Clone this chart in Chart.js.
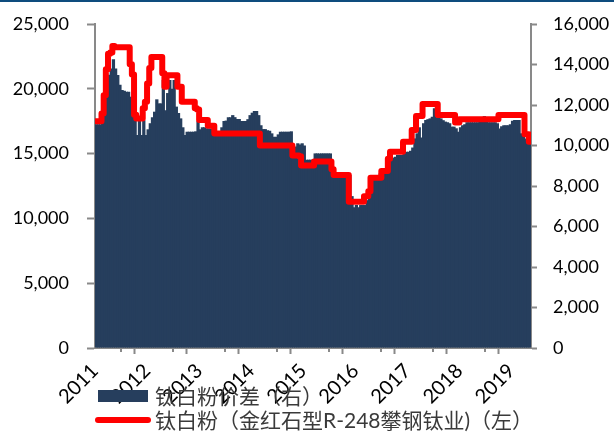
<!DOCTYPE html>
<html lang="zh">
<head>
  <meta charset="UTF-8">
  <title>钛白粉价差</title>
  <style>
    body {
      margin: 0;
      background: #fff;
    }
    #wrap {
      position: relative;
      width: 614px;
      height: 432px;
    }
    #c {
      position: absolute;
      left: 0;
      top: 0;
    }
    .topline {
      position: absolute;
      left: 0;
      top: 0;
      width: 614px;
      height: 2px;
      background: #0E4C7E;
    }
    .lg-box {
      position: absolute;
      left: 98px;
      top: 390px;
      width: 50px;
      height: 12px;
      background: #263E5D;
    }
    .lg-line {
      position: absolute;
      left: 95px;
      top: 417px;
      width: 56px;
      height: 6px;
      border-radius: 3px;
      background: #FF0000;
    }
    .lg-text {
      position: absolute;
      left: 155px;
      font-family: Lato, "Noto Sans CJK SC", sans-serif;
      font-size: 21px;
      line-height: 22px;
      color: #3a3a3a;
      white-space: nowrap;
    }
  </style>
  <script src="https://cdn.jsdelivr.net/npm/chart.js"></script>
</head>
<body>
  <div id="wrap">
    <canvas id="c" width="614" height="432"></canvas>
    <div class="topline"></div>
    <div class="lg-box"></div>
    <div class="lg-text" id="lg1" style="top:385px"></div>
    <div class="lg-line"></div>
    <div class="lg-text" id="lg2" style="top:409px"></div>
  </div>

  <script>
    // half-month samples, Jan 2011 .. mid-May 2019
    const startYear = 2011;
    const perYear = 24;
    const yearLabels = [2011, 2012, 2013, 2014, 2015, 2016, 2017, 2018, 2019];
    const seriesNames = ["钛白粉价差（右）", "钛白粉（金红石型R-248攀钢钛业)（左）"];

    // 钛白粉 price, left axis
    const priceLeft = [
      17500, 17500, 17500, 18100, 19500, 21500, 22700, 22800, 23300, 23200, 23200, 23200,
      23200, 23200, 23200, 23200, 21900, 21100, 18000, 17700, 17700, 17700, 18500, 19000,
      20400, 21600, 22450, 22450, 22450, 22450, 22450, 21200, 20150, 21050, 21050, 21050,
      21050, 21050, 20150, 20150, 19000, 19000, 19000, 19000, 19000, 19000, 18500, 18400,
      17600, 17600, 17600, 17600, 17150, 17150, 17150, 16550, 16550, 16550, 16550, 16550,
      16550, 16550, 16550, 16550, 16550, 16550, 16550, 16550, 16550, 16550, 16550, 16550,
      16550, 16550, 16550, 16550, 15620, 15620, 15620, 15620, 15620, 15620, 15620, 15620,
      15620, 15620, 15620, 15620, 15620, 15620, 15620, 14850, 14850, 14850, 14800, 14080,
      14080, 14080, 14080, 14080, 14080, 14400, 14400, 14400, 14400, 14400, 14400, 14400,
      14400, 13800, 13340, 13340, 13340, 13340, 13340, 13340, 13340, 11290, 11290, 11290,
      11290, 11290, 11290, 11290, 11700, 11700, 12100, 13130, 13130, 13130, 13130, 13130,
      13650, 13650, 13650, 14600, 15150, 15150, 15150, 15150, 15150, 15150, 15920, 15920,
      15920, 15920, 16820, 16820, 17900, 17900, 17900, 18830, 18830, 18830, 18830, 18830,
      18830, 18830, 17980, 17980, 17980, 17980, 17980, 17980, 17980, 17980, 17400, 17400,
      17650, 17650, 17650, 17650, 17650, 17650, 17650, 17650, 17650, 17650, 17650, 17650,
      17650, 17650, 17650, 17650, 17650, 17650, 17980, 17980, 17980, 17980, 17980, 17980,
      17980, 17980, 17980, 17980, 17980, 17980, 16500, 16500, 15920
    ];

    // 价差, right axis
    const spreadRight = [
      11050, 11050, 11050, 11590, 12000, 12600, 13500, 13800, 14260, 13800, 13480, 13000,
      12740, 12700, 12660, 12660, 12410, 12000, 11420, 10520, 11250, 10520, 11250, 10520,
      10800, 11100, 11400, 11670, 12280, 12080, 12080, 13230, 11740, 12590, 13230, 12800,
      13230, 11920, 11600, 11340, 10900, 10520, 10680, 10680, 10680, 10680, 10700, 11200,
      10800, 10900, 10900, 10850, 10840, 10840, 10700, 10600, 10600, 10700, 10900, 11210,
      11230, 11400, 11400, 11500, 11400, 11310, 11310, 11210, 11210, 11210, 11300, 11500,
      11620, 11700, 11700, 11500, 11000, 10810, 10810, 10750, 10730, 10600, 10430, 10430,
      10550, 10680, 10680, 10680, 10680, 10680, 10700, 9910, 9950, 10110, 10050, 10110,
      10000, 9300, 9300, 9300, 9300, 9610, 9610, 9610, 9610, 9610, 9610, 9610,
      9610, 9000, 8600, 8600, 8600, 8600, 8600, 8600, 8600, 8540, 7500, 6950,
      7060, 6950, 7060, 7060, 7060, 7300, 7640, 7640, 8300, 8300, 8450, 8630,
      8630, 8800, 8950, 8950, 9370, 9400, 9450, 9530, 9530, 9530, 9640, 9690,
      9690, 9740, 9900, 10350, 10600, 10900, 10400, 11100, 11260, 11300, 11340, 11420,
      11840, 11400, 11380, 11340, 11250, 11180, 11150, 11100, 10930, 10930, 10850, 10680,
      10900, 11000, 11050, 11150, 11150, 11150, 11150, 11150, 11150, 11180, 11200, 11450,
      11250, 11150, 11150, 11150, 11150, 11100, 10840, 10950, 11000, 11000, 11000, 11050,
      11220, 11260, 11260, 11260, 10600, 10600, 10350, 10300, 10110
    ];

    document.getElementById("lg1").textContent = seriesNames[0];
    document.getElementById("lg2").textContent = seriesNames[1];

    const xOf = i => startYear + (i + 0.5) / perYear;
    const xMax = startYear + spreadRight.length / perYear;

    const axisGray = '#898989';

    // short ticks at mid-year
    const minorTicks = {
      id: 'minorTicks',
      afterDraw(chart) {
        const { ctx, scales: { x } } = chart;
        ctx.save();
        ctx.strokeStyle = axisGray;
        ctx.lineWidth = 2;
        x.ticks.forEach(t => {
          if (Number.isInteger(t.value)) return;
          const px = Math.round(x.getPixelForValue(t.value));
          ctx.beginPath();
          ctx.moveTo(px, x.top);
          ctx.lineTo(px, x.top + 4);
          ctx.stroke();
        });
        ctx.restore();
      }
    };

    // fixed axis box, without the label overhang padding
    const fixWidth = w => s => {
      s.width = w;
      s.paddingTop = 0;
      s.paddingBottom = 0;
    };

    new Chart(document.getElementById("c"), {
      data: {
        datasets: [
          {
            type: 'line',
            label: seriesNames[1],
            data: priceLeft.map((v, i) => ({ x: xOf(i), y: v })),
            yAxisID: 'y',
            borderColor: '#FF0000',
            borderWidth: 6,
            pointRadius: 0,
            stepped: 'middle',
            borderJoinStyle: 'round',
            borderCapStyle: 'round',
            order: 0
          },
          {
            type: 'bar',
            label: seriesNames[0],
            data: spreadRight.map((v, i) => ({ x: xOf(i), y: v })),
            yAxisID: 'y1',
            backgroundColor: '#263E5D',
            borderWidth: 0,
            barPercentage: 1.5,
            categoryPercentage: 1,
            order: 1
          }
        ]
      },
      options: {
        responsive: false,
        animation: false,
        layout: { padding: { top: 24, left: 0, right: 0, bottom: 0 } },
        plugins: {
          legend: { display: false },
          tooltip: { enabled: false }
        },
        scales: {
          x: {
            type: 'linear',
            min: startYear,
            max: xMax,
            offset: false,
            afterBuildTicks: s => {
              const t = [];
              yearLabels.forEach(y => {
                t.push({ value: y });
                if (y + 0.5 <= xMax) t.push({ value: y + 0.5 });
              });
              s.ticks = t;
            },
            afterFit: s => { s.height = 84; },
            ticks: {
              autoSkip: false,
              minRotation: 45,
              maxRotation: 45,
              padding: 5,
              labelOffset: 0,
              color: '#000',
              font: { family: 'Lato', size: 20 },
              callback: v => Number.isInteger(v) ? String(v) : ''
            },
            grid: {
              drawOnChartArea: false,
              tickLength: 6,
              tickWidth: 2,
              tickColor: c => (c.tick && Number.isInteger(c.tick.value)) ? axisGray : 'rgba(0,0,0,0)'
            },
            border: { color: axisGray, width: 2 }
          },
          y: {
            position: 'left',
            min: 0,
            max: 25000,
            afterFit: fixWidth(95),
            ticks: {
              stepSize: 5000,
              padding: 18,
              color: '#000',
              font: { family: 'Lato', size: 18 },
              callback: v => v.toLocaleString('en-US')
            },
            grid: { drawOnChartArea: false, tickLength: 8, tickColor: axisGray, tickWidth: 2 },
            border: { color: axisGray, width: 2 }
          },
          y1: {
            position: 'right',
            min: 0,
            max: 16000,
            afterFit: fixWidth(83),
            ticks: {
              stepSize: 2000,
              padding: 16,
              color: '#000',
              font: { family: 'Lato', size: 18 },
              callback: v => v.toLocaleString('en-US')
            },
            grid: { drawOnChartArea: false, tickLength: 6, tickColor: axisGray, tickWidth: 2 },
            border: { color: axisGray, width: 2 }
          }
        }
      },
      plugins: [minorTicks]
    });
  </script>
</body>
</html>
